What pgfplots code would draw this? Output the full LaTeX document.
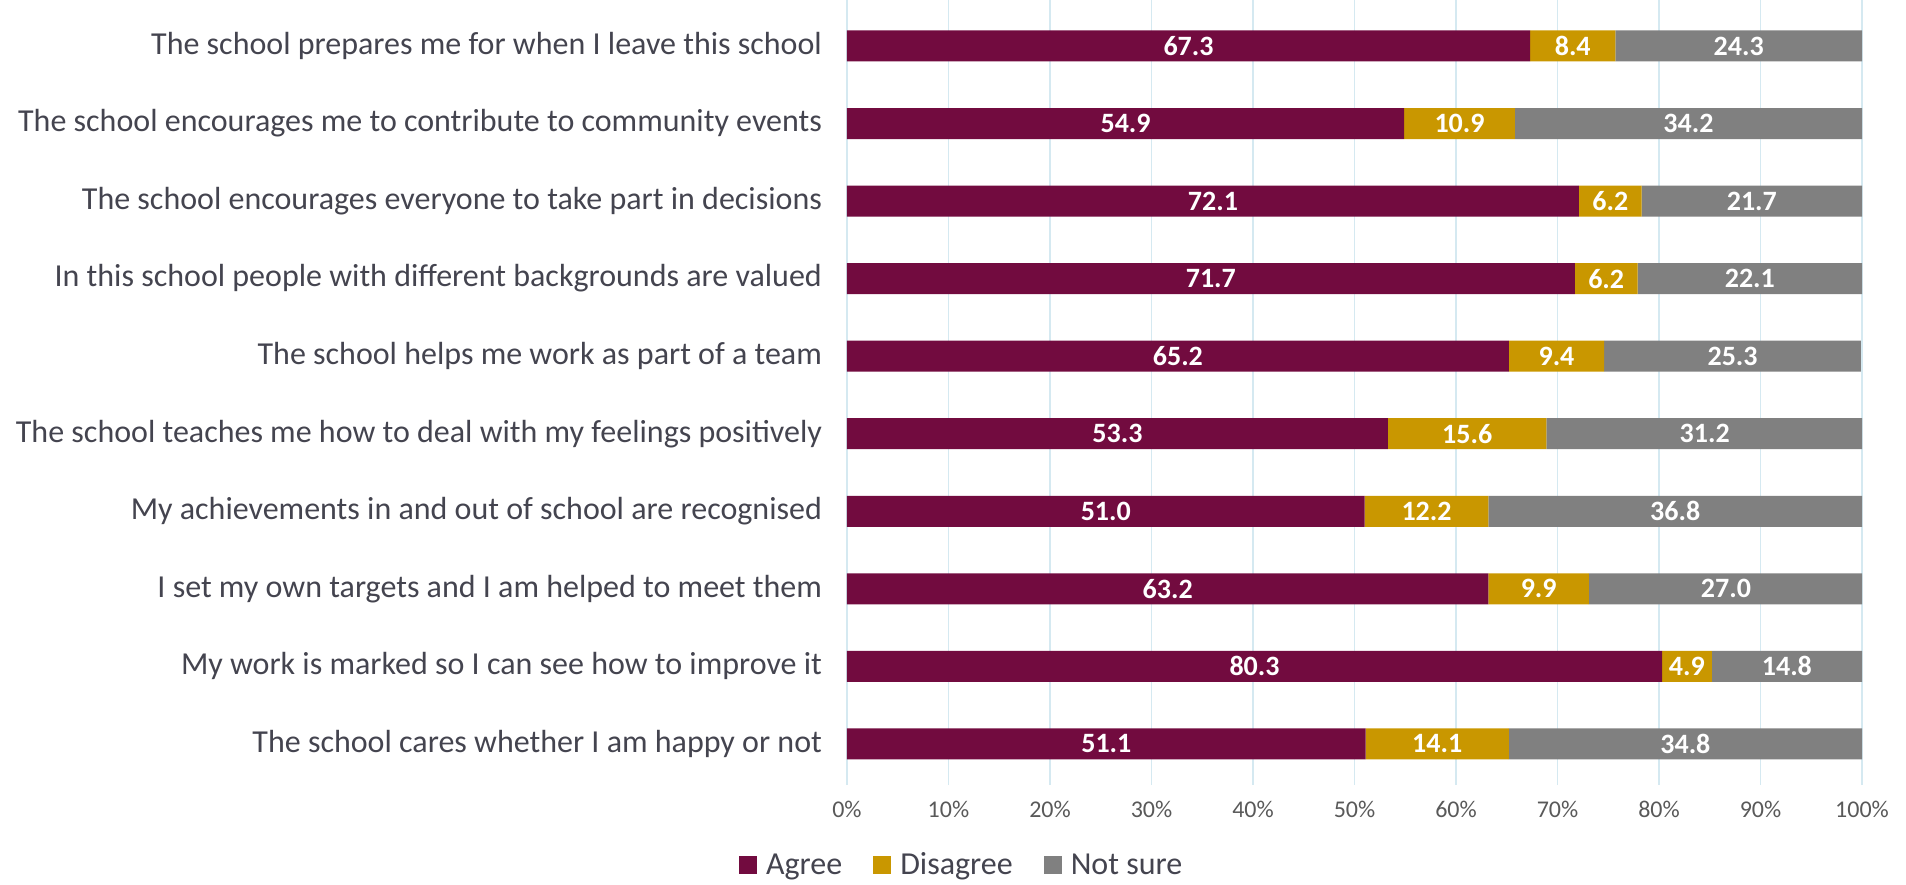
\documentclass[border=0pt]{standalone}
\usepackage{fontspec}
\setmainfont{Carlito}
\usepackage{pgfplots}
\usepackage{pgfplotstable}
\pgfplotsset{compat=1.18}
\definecolor{agree}{HTML}{720B3F}
\definecolor{disagree}{HTML}{C99700}
\definecolor{notsure}{HTML}{808080}
\definecolor{gridc}{HTML}{D5E9F1}
\definecolor{txt}{HTML}{44444F}
\definecolor{ticktxt}{HTML}{595959}

\pgfplotstableread[col sep=comma]{
idx,agree,dis,ns
9,67.3,8.4,24.3
8,54.9,10.9,34.2
7,72.1,6.2,21.7
6,71.7,6.2,22.1
5,65.2,9.4,25.3
4,53.3,15.6,31.2
3,51.0,12.2,36.8
2,63.2,9.9,27.0
1,80.3,4.9,14.8
0,51.1,14.1,34.8
}\datatable

\pgfplotsset{
  common/.style={
    scale only axis, width=507.5pt, height=392.5pt,
    xmin=0, xmax=100, ymin=-0.53, ymax=9.593,
  },
  legsq/.style={legend image code/.code={\fill[##1] (0pt,-4.5pt) rectangle (9pt,4.5pt);}},
  barlab/.style={only marks, mark=*, mark size=0pt, mark options={draw=none, fill=none},
    nodes near coords, point meta=explicit symbolic,
    every node near coord/.append style={anchor=center, text=white, text opacity=1, font=\bfseries\fontsize{14}{16}\selectfont}},
}

\begin{document}
\begin{tikzpicture}
\begin{axis}[
  common,
  xbar stacked, bar width=15.5pt,
  /pgf/number format/assume math mode=true,
  xtick={0,10,...,100},
  xticklabel={\pgfmathprintnumber{\tick}\%},
  xmajorgrids, grid style={gridc, line width=0.75pt},
  axis line style={draw=none}, major tick length=0,
  ytick={0,...,9},
  yticklabels={
    The school cares whether I am happy or not,
    My work is marked so I can see how to improve it,
    I set my own targets and I am helped to meet them,
    My achievements in and out of school are recognised,
    The school teaches me how to deal with my feelings positively,
    The school helps me work as part of a team,
    In this school people with different backgrounds are valued,
    The school encourages everyone to take part in decisions,
    The school encourages me to contribute to community events,
    The school prepares me for when I leave this school},
  yticklabel style={text=txt, font=\fontsize{16}{19}\selectfont, xshift=-9pt},
  xticklabel style={text=ticktxt, font=\fontsize{12}{14}\selectfont, yshift=-4.5pt},
  legend columns=3,
  legend style={at={(0.112,-0.086)}, anchor=north, draw=none, fill=none,
    inner sep=0pt, nodes={inner sep=0pt, text=txt},
    font=\fontsize{16}{19}\selectfont,
    /tikz/every odd column/.style={column sep=4.5pt},
    /tikz/every even column/.style={column sep=15.5pt}},
]
\addplot[fill=agree, draw=none, legsq] table[x=agree, y=idx] {\datatable};
\addplot[fill=disagree, draw=none, legsq] table[x=dis, y=idx] {\datatable};
\addplot[fill=notsure, draw=none, legsq] table[x=ns, y=idx] {\datatable};
\legend{Agree, Disagree, Not sure}
\end{axis}
\begin{axis}[common, hide axis, clip=false]
\addplot[barlab] table[x expr=\thisrow{agree}/2, y=idx, meta=agree] {\datatable};
\addplot[barlab] table[x expr=\thisrow{agree}+\thisrow{dis}/2, y=idx, meta=dis] {\datatable};
\addplot[barlab] table[x expr=\thisrow{agree}+\thisrow{dis}+\thisrow{ns}/2, y=idx, meta=ns] {\datatable};
\end{axis}
\pgfresetboundingbox
\path (-423.5pt,-49.5pt) rectangle (529.5pt,392.5pt);
\end{tikzpicture}
\end{document}
